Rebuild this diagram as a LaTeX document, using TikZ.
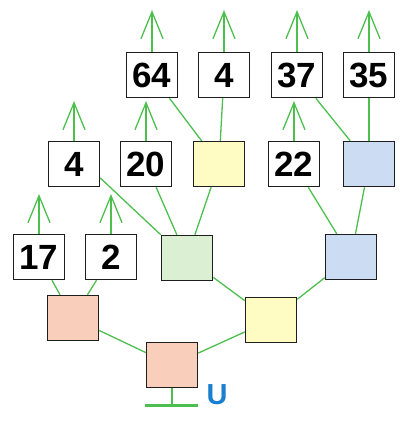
\documentclass[tikz,border=0pt]{standalone}
\usepackage{fontspec}
\setmainfont{Liberation Sans}
\usetikzlibrary{arrows.meta}
\definecolor{lgreen}{HTML}{4DBF4F}
\definecolor{fpink}{HTML}{F9CFBC}
\definecolor{fyellow}{HTML}{FFFCC3}
\definecolor{fgreen}{HTML}{DBF0D3}
\definecolor{fblue}{HTML}{CCDCF2}
\definecolor{ublue}{HTML}{1A7FCF}
\definecolor{edge}{HTML}{1E1E1E}
\tikzset{
  box/.style={draw=edge, line width=1.5pt, minimum width=51pt, minimum height=45pt, inner sep=0pt, font=\fontsize{35}{35}\bfseries, text=black},
  conn/.style={draw=lgreen, line width=1.3pt},
  up/.style={draw=lgreen, line width=1.3pt, -{Straight Barb[length=27pt,width=22pt]}},
}
\begin{document}
\begin{tikzpicture}[x=1pt,y=-1pt]
\useasboundingbox (0,0) rectangle (416,424);
% top row
\node[box] (t64) at (152,75) {64};
\node[box] (t4) at (224,75) {4};
\node[box] (t37) at (297,75) {37};
\node[box] (t35) at (369,75) {35};
% second row
\node[box] (s4) at (74,164) {4};
\node[box] (s20) at (146,164) {20};
\node[box, fill=fyellow] (sy) at (219,164) {};
\node[box] (s22) at (294,164) {22};
\node[box, fill=fblue] (sb) at (369,164) {};
% third row
\node[box] (r17) at (39,257) {17};
\node[box] (r2) at (111,257) {2};
\node[box, fill=fgreen] (rg) at (187,258) {};
\node[box, fill=fblue] (rb) at (351,257) {};
% fourth row
\node[box, fill=fpink] (p1) at (73,318) {};
\node[box, fill=fyellow] (y2) at (271,320) {};
% root
\node[box, fill=fpink] (bp) at (172,365) {};
% arrow tips
\coordinate (a64) at (152,10);
\coordinate (a4) at (224,10);
\coordinate (a37) at (297,10);
\coordinate (a35) at (369,10);
\coordinate (as4) at (74,101);
\coordinate (as20) at (146,101);
\coordinate (as22) at (294,101);
\coordinate (ar17) at (39,194);
\coordinate (ar2) at (111,194);
% connectors
\draw[conn] (t64) -- (sy);
\draw[conn] (t4) -- (sy);
\draw[conn] (t37) -- (sb);
\draw[conn] (t35) -- (sb);
\draw[conn] (s4.-28) -- (rg.north west);
\draw[conn] (s20) -- (rg);
\draw[conn] (sy) -- (rg);
\draw[conn] (s22) -- (rb);
\draw[conn] (sb) -- (rb);
\draw[conn] (r17) -- (p1);
\draw[conn] (r2) -- (p1);
\draw[conn] (rg) -- (y2);
\draw[conn] (rb) -- (y2);
\draw[conn] (p1) -- (bp);
\draw[conn] (y2) -- (bp);
% arrows
\draw[up] (t64.north) -- (a64);
\draw[up] (t4.north) -- (a4);
\draw[up] (t37.north) -- (a37);
\draw[up] (t35.north) -- (a35);
\draw[up] (s4.north) -- (as4);
\draw[up] (s20.north) -- (as20);
\draw[up] (s22.north) -- (as22);
\draw[up] (r17.north) -- (ar17);
\draw[up] (r2.north) -- (ar2);
% ground
\coordinate (g) at (172,405);
\coordinate (gl) at (145,405);
\coordinate (gr) at (198,405);
\draw[conn] (bp.south) -- (g);
\draw[draw=lgreen, line width=3pt] (gl) -- (gr);
\node[font=\fontsize{29}{29}\bfseries, text=ublue, inner sep=0pt] (u) at (217,395) {U};
\end{tikzpicture}
\end{document}
